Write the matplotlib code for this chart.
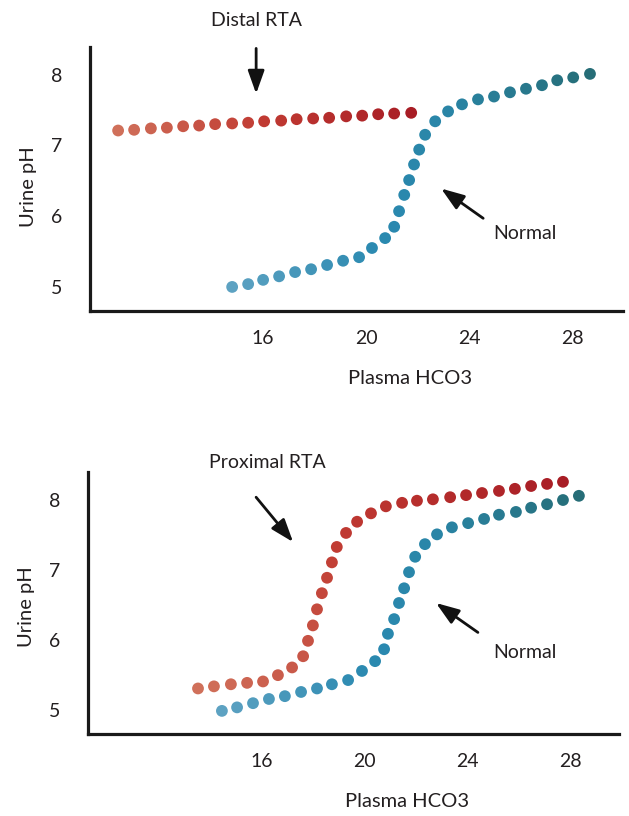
import matplotlib.pyplot as plt
from matplotlib.colors import LinearSegmentedColormap
import numpy as np

plt.rcParams['font.family'] = ['Lato', 'DejaVu Sans']

# Panel 1: Distal RTA vs normal
distal_x = [10.38, 11.0, 11.65, 12.27, 12.9, 13.52, 14.14, 14.8, 15.42, 16.04,
            16.7, 17.3, 17.94, 18.56, 19.22, 19.84, 20.46, 21.08, 21.74]
distal_y = [7.21, 7.22, 7.24, 7.25, 7.27, 7.28, 7.30, 7.31, 7.32, 7.34,
            7.35, 7.37, 7.38, 7.39, 7.41, 7.42, 7.44, 7.45, 7.46]

normal1_x = [14.80, 15.42, 16.0, 16.62, 17.24, 17.86, 18.48, 19.10, 19.72, 20.22,
             20.73, 21.08, 21.27, 21.47, 21.66, 21.85, 22.05, 22.28, 22.67, 23.17,
             23.71, 24.33, 24.95, 25.57, 26.19, 26.81, 27.40, 28.02, 28.67]
normal1_y = [5.00, 5.04, 5.10, 5.15, 5.21, 5.25, 5.31, 5.37, 5.42, 5.55,
             5.69, 5.85, 6.07, 6.30, 6.51, 6.73, 6.94, 7.15, 7.34, 7.48,
             7.58, 7.65, 7.69, 7.75, 7.80, 7.85, 7.92, 7.96, 8.01]

# Panel 2: Proximal RTA vs normal
prox_x = [13.51, 14.13, 14.79, 15.42, 16.04, 16.62, 17.17, 17.60, 17.79, 17.98,
          18.14, 18.33, 18.53, 18.72, 18.91, 19.27, 19.70, 20.24, 20.82, 21.45,
          22.03, 22.65, 23.32, 23.94, 24.56, 25.22, 25.84, 26.47, 27.09, 27.71]
prox_y = [5.31, 5.34, 5.37, 5.39, 5.41, 5.50, 5.61, 5.77, 5.99, 6.21,
          6.44, 6.67, 6.89, 7.11, 7.33, 7.53, 7.69, 7.81, 7.91, 7.96,
          7.99, 8.01, 8.04, 8.07, 8.10, 8.13, 8.16, 8.20, 8.23, 8.26]

normal2_x = [14.44, 15.03, 15.65, 16.27, 16.89, 17.52, 18.14, 18.72, 19.35, 19.89,
             20.40, 20.75, 20.90, 21.14, 21.33, 21.53, 21.72, 21.96, 22.34, 22.81,
             23.39, 24.02, 24.64, 25.22, 25.88, 26.47, 27.09, 27.71, 28.33]
normal2_y = [4.99, 5.04, 5.10, 5.16, 5.20, 5.26, 5.31, 5.37, 5.43, 5.56,
             5.70, 5.87, 6.09, 6.30, 6.53, 6.74, 6.97, 7.19, 7.37, 7.51,
             7.61, 7.67, 7.73, 7.79, 7.83, 7.89, 7.94, 8.00, 8.06]

x_ticks = [16, 20, 24, 28]
y_ticks = [5, 6, 7, 8]

reds = LinearSegmentedColormap.from_list('reds', ['#d0705a', '#c03a32', '#a81d25'])
blues = LinearSegmentedColormap.from_list('blues', ['#5da2c2', '#2a89b0', '#2a86a8', '#266d77'])

TXT = '#231f20'


def dots(ax, x, y, cmap):
    c = cmap(np.linspace(0, 1, len(x)))
    ax.scatter(x, y, s=72, c=c, linewidths=0, zorder=3, clip_on=False)


def setup(ax, xlim, ylim, ylab_pos):
    ax.set_xlim(*xlim)
    ax.set_ylim(*ylim)
    for s in ['top', 'right']:
        ax.spines[s].set_visible(False)
    for s in ['left', 'bottom']:
        ax.spines[s].set_linewidth(2.3)
        ax.spines[s].set_color('#1a1a1a')
    ax.set_xticks(x_ticks)
    ax.set_yticks(y_ticks)
    ax.tick_params(axis='x', length=0, pad=14, labelsize=14, colors=TXT)
    ax.tick_params(axis='y', length=0, pad=20, labelsize=14, colors=TXT)
    ax.set_xlabel('Plasma HCO3', fontsize=14.5, color=TXT)
    ax.set_ylabel('Urine pH', fontsize=14.5, color=TXT)
    ax.xaxis.set_label_coords(0.60, -0.225)
    ax.yaxis.set_label_coords(-0.10, ylab_pos)


def arrow(ax, tail, head):
    ax.annotate('', xy=head, xytext=tail, annotation_clip=False,
                arrowprops=dict(arrowstyle='-|>,head_length=1.4,head_width=0.5',
                                lw=2.0, color='#111111', shrinkA=0, shrinkB=0))


fig = plt.figure(figsize=(6.29, 8.16), dpi=100)

ax1 = fig.add_axes([90 / 629, 1 - 311 / 816, (623 - 90) / 629, (311 - 47) / 816])
setup(ax1, (9.29, 29.95), (4.66, 8.39), 0.47)
dots(ax1, distal_x, distal_y, reds)
dots(ax1, normal1_x, normal1_y, blues)
ax1.text(15.73, 8.76, 'Distal RTA', ha='center', va='center', fontsize=14, color=TXT)
arrow(ax1, (15.73, 8.37), (15.73, 7.73))
ax1.text(26.16, 5.76, 'Normal', ha='center', va='center', fontsize=14, color=TXT)
arrow(ax1, (24.53, 5.97), (22.90, 6.39))

ax2 = fig.add_axes([88 / 629, 1 - 734 / 816, (619 - 88) / 629, (734 - 472) / 816])
setup(ax2, (9.23, 29.89), (4.66, 8.40), 0.485)
dots(ax2, prox_x, prox_y, reds)
dots(ax2, normal2_x, normal2_y, blues)
ax2.text(16.19, 8.53, 'Proximal RTA', ha='center', va='center', fontsize=14, color=TXT)
arrow(ax2, (15.77, 8.04), (17.21, 7.40))
ax2.text(26.23, 5.83, 'Normal', ha='center', va='center', fontsize=14, color=TXT)
arrow(ax2, (24.40, 6.11), (22.77, 6.53))

fig.savefig('out.png', dpi=100)
